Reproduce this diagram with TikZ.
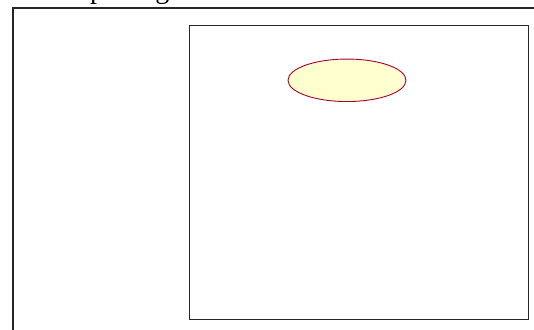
\documentclass[tikz,border=0pt]{standalone}
\usepackage{fontspec}
\setmainfont{Liberation Serif}
\usetikzlibrary{shapes.geometric}
\definecolor{umlred}{HTML}{A80036}
\definecolor{umlfill}{HTML}{FEFECE}
\tikzset{
  frameline/.style={draw=black!85, line width=1.3pt},
  usecase/.style={ellipse, draw=umlred, fill=umlfill, line width=0.9pt, minimum width=118pt, minimum height=42.5pt, inner sep=0pt},
}
\begin{document}
\begin{tikzpicture}[x=1pt,y=-1pt]
\useasboundingbox (0,0) rectangle (534,329);
\clip (0,0) rectangle (534,329);
\node[anchor=base west, font=\fontsize{28}{28}\selectfont, inner sep=0pt] (title) at (90,-1.5) {package};
\draw[frameline] (13,340) -- (13,8) -- (545,8);
\node[frameline, rectangle, anchor=north west, minimum width=338.5pt, minimum height=294pt, inner sep=0pt] (box) at (189,25) {};
\node[usecase] (uc) at (347,80.3) {};
\end{tikzpicture}
\end{document}
